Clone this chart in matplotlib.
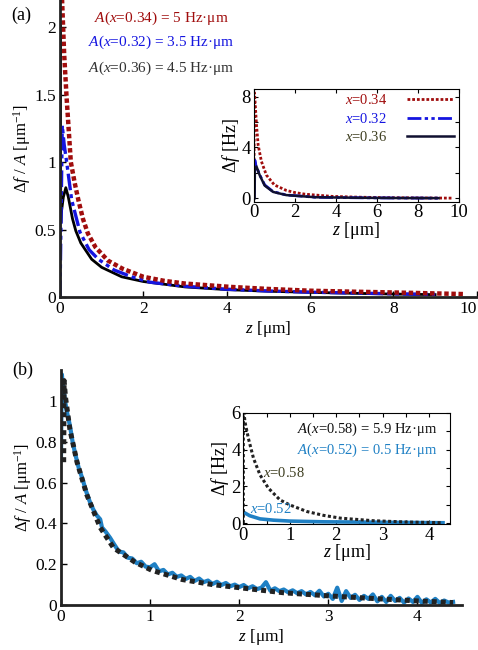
import numpy as np
import matplotlib
matplotlib.use('Agg')
import matplotlib.pyplot as plt

plt.rcParams['font.family'] = ['Liberation Serif', 'DejaVu Serif']
plt.rcParams['mathtext.fontset'] = 'custom'
plt.rcParams['mathtext.rm'] = 'Liberation Serif'
plt.rcParams['mathtext.it'] = 'Liberation Serif:italic'
plt.rcParams['font.size'] = 12

# ---- panel (a), normalised curves ----
z_a34 = [0.02, 0.05, 0.1, 0.16, 0.26, 0.35, 0.44, 0.55, 0.67, 0.85, 1.15, 1.5, 2.0,
         2.5, 3.0, 4.1, 5.0, 6.0, 7.0, 8.0, 9.0, 9.7]
df_a34 = [2.45, 2.2, 1.8, 1.47, 1.0, 0.85, 0.72, 0.58, 0.47, 0.37, 0.27, 0.21, 0.15,
          0.12, 0.1, 0.075, 0.06, 0.047, 0.04, 0.034, 0.027, 0.022]
z_a32 = [0, 0.055, 0.1, 0.16, 0.28, 0.48, 0.7, 0.92, 1.3, 1.72, 2.16, 3, 4, 5, 6, 7, 8, 9]
df_a32 = [0, 1.27, 1.13, 1.0, 0.72, 0.48, 0.35, 0.28, 0.2, 0.15, 0.11, 0.08, 0.058,
          0.045, 0.036, 0.03, 0.024, 0.02]
z_a36 = [0, 0.003, 0.02, 0.03, 0.08, 0.14, 0.2, 0.3, 0.38, 0.5, 0.76, 1.0, 1.48, 2, 3,
         4, 5, 6, 7, 8, 9]
df_a36 = [0, 2.03, 0.55, 0.62, 0.74, 0.81, 0.74, 0.58, 0.49, 0.40, 0.28, 0.22, 0.15,
          0.115, 0.075, 0.055, 0.043, 0.035, 0.028, 0.022, 0.018]

# ---- panel (a) inset, raw shift in Hz ----
zi_34 = [0.0, 0.03, 0.05, 0.13, 0.21, 0.37, 0.61, 1.0, 1.58, 2.0, 2.5, 3.8, 5.0, 6.3,
         8.0, 9.7]
dfi_34 = [0.0, 8.3, 7.9, 5.8, 4.2, 2.9, 1.83, 1.05, 0.62, 0.45, 0.32, 0.15, 0.09,
          0.05, 0.03, 0.01]
zi_32 = [0.0, 0.05, 0.1, 0.29, 0.53, 0.94, 1.58, 3.0, 5.0, 7.0, 9.0]
dfi_32 = [0.0, 3.0, 2.6, 1.83, 1.05, 0.52, 0.26, 0.08, 0.04, 0.02, 0.01]
zi_36 = [0.04, 0.05, 0.13, 0.29, 0.53, 0.94, 1.58, 3.0, 5.0, 7.0, 9.0]
dfi_36 = [0.0, 2.2, 2.5, 1.8, 1.0, 0.5, 0.25, 0.08, 0.04, 0.02, 0.01]

# ---- panel (b), normalised curves ----
z_b52 = [0.00, 0.005, 0.01, 0.02, 0.04, 0.06, 0.08, 0.10, 0.13, 0.16, 0.20, 0.24, 0.28,
         0.32, 0.36, 0.40, 0.44, 0.46, 0.50, 0.55,
         0.60, 0.65, 0.70, 0.75, 0.80, 0.85, 0.90, 0.95, 1.00, 1.05, 1.10, 1.15, 1.20,
         1.25, 1.30, 1.35, 1.40, 1.45, 1.50, 1.55, 1.60, 1.65, 1.70, 1.75, 1.80, 1.85,
         1.90, 1.95, 2.00, 2.05, 2.10, 2.15, 2.20, 2.25, 2.30, 2.35, 2.40, 2.45, 2.50,
         2.55, 2.60, 2.65, 2.70, 2.75, 2.80, 2.85, 2.90, 2.95, 3.00, 3.05, 3.10, 3.15,
         3.20, 3.25, 3.30, 3.35, 3.40, 3.45, 3.50, 3.55, 3.60, 3.65, 3.70, 3.75, 3.80,
         3.85, 3.90, 3.95, 4.00, 4.05, 4.10, 4.15, 4.20, 4.25, 4.30, 4.35, 4.40]
df_b52 = [0.72, 0.95, 1.13, 1.08, 1.02, 0.96, 0.92, 0.88, 0.80, 0.74, 0.67, 0.62, 0.56,
          0.51, 0.47, 0.44, 0.42, 0.38, 0.36, 0.33,
          0.295, 0.262, 0.258, 0.232, 0.228, 0.205, 0.212, 0.188, 0.185, 0.20, 0.165,
          0.172, 0.15, 0.158, 0.138, 0.145, 0.128, 0.138, 0.118, 0.13, 0.112, 0.12,
          0.103, 0.114, 0.098, 0.108, 0.092, 0.10, 0.088, 0.098, 0.082, 0.092, 0.078,
          0.085, 0.112, 0.07, 0.082, 0.068, 0.076, 0.062, 0.072, 0.058, 0.068, 0.052,
          0.064, 0.048, 0.07, 0.042, 0.055, 0.03, 0.085, 0.02, 0.068, 0.035, 0.05,
          0.025, 0.045, 0.03, 0.052, 0.018, 0.04, 0.015, 0.045, 0.02, 0.035, 0.012,
          0.032, 0.015, 0.04, 0.01, 0.028, 0.012, 0.03, 0.01, 0.022, 0.012, 0.015]
z_b58 = [0.03, 0.035, 0.05, 0.1, 0.18, 0.29, 0.44, 0.59, 0.83, 1.02, 1.36, 1.7, 2.0,
         2.5, 3.0, 3.5, 4.0, 4.4]
df_b58 = [0.7, 1.1, 1.02, 0.86, 0.70, 0.54, 0.38, 0.28, 0.21, 0.17, 0.125, 0.1, 0.085,
          0.06, 0.045, 0.032, 0.02, 0.012]

# ---- panel (b) inset, raw shift in Hz ----
zi_58 = [0.0, 0.0, 0.015, 0.036, 0.11, 0.22, 0.36, 0.54, 0.79, 1.0, 1.37, 1.73, 2.09,
         2.8, 3.5, 4.3]
dfi_58 = [0.0, 6.0, 6.0, 5.5, 4.6, 3.52, 2.62, 1.9, 1.26, 0.99, 0.63, 0.42, 0.27,
          0.13, 0.06, 0.02]
zi_52 = [0.0, 0.14, 0.36, 0.65, 1.0, 1.73, 2.8, 4.3]
dfi_52 = [0.6, 0.4, 0.23, 0.16, 0.11, 0.07, 0.05, 0.02]

red = '#a00d0d'
blue = '#1515e0'
olive = '#3d3d1f'
mblue = '#1f80c4'

fig = plt.figure(figsize=(4.78, 6.5), dpi=100)

# main (a)
ax = fig.add_axes([0.1255, 0.543, 0.872, 0.457])
ax.plot(z_a36, df_a36, color='black', lw=2.0)
ax.plot(z_a32, df_a32, color=blue, lw=2.4, ls=(0, (5, 1.2, 1.2, 1.2, 1.2, 1.2)))
ax.plot(z_a34, df_a34, color=red, lw=3.2, ls=(0, (1, 0.6)))
ax.set_xlim(0, 10)
ax.set_ylim(0, 2.2)
ax.set_xticks([0, 2, 4, 6, 8, 10])
ax.set_yticks([0, 0.5, 1, 1.5, 2])
ax.set_yticklabels(['0', '0.5', '1', '1.5', '2'])
for s in ['top', 'right']:
    ax.spines[s].set_visible(False)
for s in ['left', 'bottom']:
    ax.spines[s].set_linewidth(2)
    ax.spines[s].set_color('#222222')
ax.tick_params(direction='in', length=4, width=1, labelsize=12.5, pad=3)
ax.get_xticklabels()[-1].set_horizontalalignment('right')
ax.set_ylabel(r'$\Delta f$ / $A$ [μm$^{-1}$]', fontsize=12, labelpad=1)
ax.set_xlabel(r'$z$ [μm]', fontsize=12.5, labelpad=1)
ax.text(0.242, 0.939, r'$A$($x$=0.34) = 5 Hz·μm', color=red, fontsize=11,
        ha='center', va='center', transform=ax.transAxes)
ax.text(0.242, 0.859, r'$A$($x$=0.32) = 3.5 Hz·μm', color=blue, fontsize=11,
        ha='center', va='center', transform=ax.transAxes)
ax.text(0.242, 0.771, r'$A$($x$=0.36) = 4.5 Hz·μm', color='#333333', fontsize=11,
        ha='center', va='center', transform=ax.transAxes)
fig.text(0.045, 0.977, '(a)', fontsize=13, ha='center', va='center')

# inset (a)
axi = fig.add_axes([0.531, 0.6897, 0.4295, 0.1734])
l34, = axi.plot(zi_34, dfi_34, color=red, lw=2.0, ls=(0, (1, 0.7)))
l32, = axi.plot(zi_32, dfi_32, color=blue, lw=2.0, ls=(0, (5, 1.2, 1.2, 1.2, 1.2, 1.2)))
l36, = axi.plot(zi_36, dfi_36, color='#101030', lw=1.8)
axi.set_xlim(0, 10)
axi.set_ylim(-0.27, 8.6)
axi.set_xticks([0, 2, 4, 6, 8, 10])
axi.set_yticks([0, 2, 4, 6, 8])
axi.set_yticklabels(['0', '', '4', '', '8'])
axi.tick_params(direction='in', length=3, width=0.8, labelsize=13.5, pad=2,
                top=True, right=True)
for s in axi.spines.values():
    s.set_linewidth(0.8)
axi.set_ylabel(r'$\Delta f$ [Hz]', fontsize=13, labelpad=0)
axi.set_xlabel(r'$z$ [μm]', fontsize=13, labelpad=-1)
axi.legend([l34, l32, l36], [r'$x$=0.34', r'$x$=0.32', r'$x$=0.36'],
           labelcolor=[red, blue, olive], markerfirst=False, frameon=False,
           loc='upper right', bbox_to_anchor=(0.975, 0.96), borderpad=0,
           borderaxespad=0, handlelength=3.2, handletextpad=1.4, labelspacing=0.3,
           fontsize=10.5)

# main (b)
bx = fig.add_axes([0.1276, 0.0692, 0.8389, 0.361])
bx.plot(z_b52, df_b52, color=mblue, lw=3.0)
bx.plot(z_b58, df_b58, color='#222222', lw=3.6, ls=(0, (1, 0.8)))
bx.set_xlim(0, 4.5)
bx.set_ylim(0, 1.15)
bx.set_xticks([0, 1, 2, 3, 4])
bx.set_yticks([0, 0.2, 0.4, 0.6, 0.8, 1])
bx.set_yticklabels(['0', '0.2', '0.4', '0.6', '0.8', '1'])
for s in ['top', 'right']:
    bx.spines[s].set_visible(False)
for s in ['left', 'bottom']:
    bx.spines[s].set_linewidth(2)
    bx.spines[s].set_color('#222222')
bx.tick_params(direction='in', length=4, width=1, labelsize=12.5, pad=3)
bx.set_ylabel(r'$\Delta f$ / $A$ [μm$^{-1}$]', fontsize=12, labelpad=1)
bx.set_xlabel(r'$z$ [μm]', fontsize=12.5, labelpad=1)
fig.text(0.048, 0.431, '(b)', fontsize=13, ha='center', va='center')

# inset (b)
bxi = fig.add_axes([0.509, 0.1938, 0.4324, 0.1712])
bxi.plot(zi_52, dfi_52, color=mblue, lw=2.6)
bxi.plot(zi_58, dfi_58, color='#222222', lw=2.2, ls=(0, (1, 0.8)))
bxi.set_xlim(0, 4.45)
bxi.set_ylim(-0.05, 6.0)
bxi.set_xticks([0, 1, 2, 3, 4])
bxi.set_xticks([0.5, 1.5, 2.5, 3.5], minor=True)
bxi.set_yticks([0, 2, 4, 6])
bxi.set_yticks([1, 3, 5], minor=True)
bxi.tick_params(which='both', direction='in', length=3, width=0.8, labelsize=13.5,
                pad=2, top=True, right=True)
for s in bxi.spines.values():
    s.set_linewidth(0.8)
bxi.set_ylabel(r'$\Delta f$ [Hz]', fontsize=13, labelpad=0)
bxi.set_xlabel(r'$z$ [μm]', fontsize=13, labelpad=-1)
bxi.text(0.94, 0.855, r'$A$($x$=0.58) = 5.9 Hz·μm', color='#111111', fontsize=10.5,
         ha='right', va='center', transform=bxi.transAxes)
bxi.text(0.94, 0.665, r'$A$($x$=0.52) = 0.5 Hz·μm', color=mblue, fontsize=10.5,
         ha='right', va='center', transform=bxi.transAxes)
bxi.text(0.43, 2.75, r'$x$=0.58', color=olive, fontsize=10.5, ha='left', va='center')
bxi.text(0.14, 0.75, r'$x$=0.52', color=mblue, fontsize=10.5, ha='left', va='center')

fig.savefig('out.png', dpi=100)
